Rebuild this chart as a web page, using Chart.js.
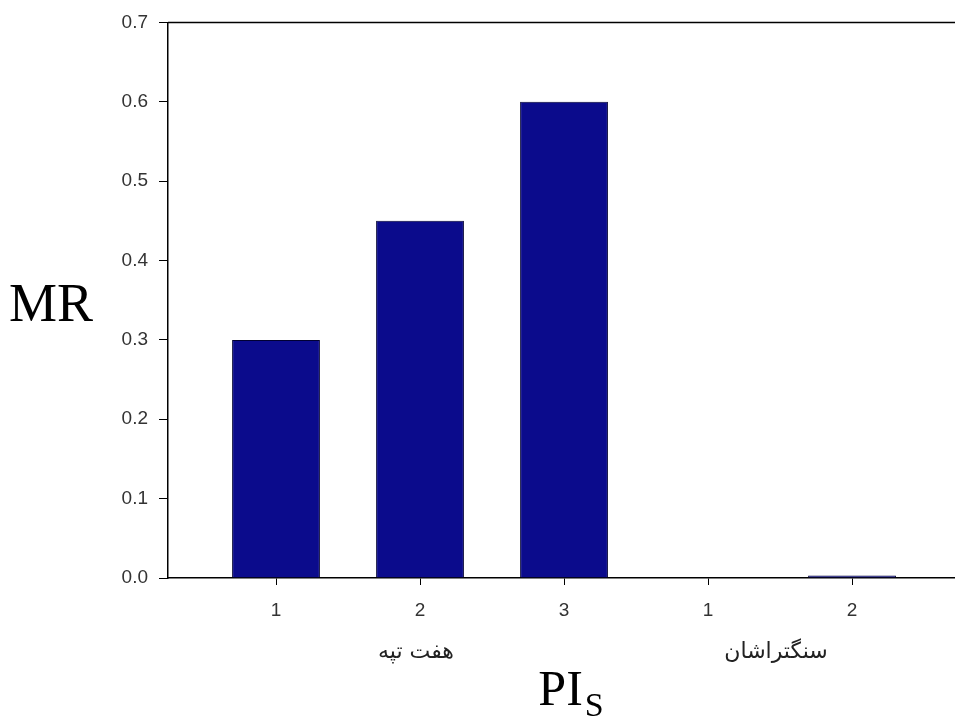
<!DOCTYPE html>
<html>
<head>
<meta charset="utf-8">
<script src="https://cdn.jsdelivr.net/npm/chart.js@4.4.1/dist/chart.umd.min.js"></script>
<style>
html,body{margin:0;padding:0;background:#fff;overflow:hidden;}
#wrap{position:relative;width:955px;height:720px;}
</style>
</head>
<body>
<div id="wrap"><canvas id="c" width="955" height="720"></canvas></div>
<script>
// ---- data ----
const categories = ['1', '2', '3', '1', '2'];
const groups = ['هفت تپه', 'سنگتراشان'];
const groupSizes = [3, 2];
const mrValues = [0.30, 0.45, 0.60, 0.0, 0.003];
const yTicks = [0.0, 0.1, 0.2, 0.3, 0.4, 0.5, 0.6, 0.7];
const yTitle = 'MR';
const xTitleMain = 'PI';
const xTitleSub = 'S';

const points = categories.map((c, i) => ({x: i, y: mrValues[i]}));

const decor = {
  id: 'decor',
  afterDraw(chart) {
    const {ctx, chartArea, scales} = chart;
    const x = scales.x, y = scales.y;
    ctx.save();
    // top frame line
    ctx.strokeStyle = '#000';
    ctx.lineWidth = 1.5;
    ctx.beginPath();
    ctx.moveTo(chartArea.left, y.getPixelForValue(yTicks[yTicks.length - 1]));
    ctx.lineTo(chartArea.right, y.getPixelForValue(yTicks[yTicks.length - 1]));
    ctx.stroke();
    // group labels
    ctx.fillStyle = '#222';
    ctx.font = '22px "DejaVu Sans"';
    ctx.textAlign = 'center';
    ctx.textBaseline = 'middle';
    let start = 0;
    groups.forEach((g, gi) => {
      const end = start + groupSizes[gi] - 1;
      const cx = (x.getPixelForValue(start) + x.getPixelForValue(end)) / 2;
      ctx.fillText(g, cx - 4, 652);
      start = end + 1;
    });
    // y title
    ctx.fillStyle = '#000';
    ctx.font = '54px "Liberation Serif"';
    ctx.textAlign = 'left';
    ctx.textBaseline = 'alphabetic';
    ctx.fillText(yTitle, 9, 321);
    // x title with subscript
    ctx.font = '50px "Liberation Serif"';
    const wMain = ctx.measureText(xTitleMain).width;
    ctx.font = '34px "Liberation Serif"';
    const wSub = ctx.measureText(xTitleSub).width;
    const cx = (chartArea.left + x.getPixelForValue(4.75)) / 2 + 6;
    const x0 = cx - (wMain + wSub) / 2;
    ctx.font = '50px "Liberation Serif"';
    ctx.fillText(xTitleMain, x0, 705);
    ctx.font = '34px "Liberation Serif"';
    ctx.fillText(xTitleSub, x0 + wMain + 2, 716);
    ctx.restore();
  }
};

new Chart(document.getElementById('c'), {
  type: 'bar',
  data: {
    datasets: [{
      data: points,
      backgroundColor: '#0b0b8c',
      borderColor: '#000033',
      borderWidth: 1,
      barPercentage: 0.61,
      categoryPercentage: 1.0
    }]
  },
  options: {
    responsive: false,
    animation: false,
    layout: {padding: {top: 21, left: 0, right: 0, bottom: 0}},
    plugins: {legend: {display: false}, tooltip: {enabled: false}},
    scales: {
      x: {
        type: 'linear',
        offset: false,
        min: -0.75,
        max: 4.715,
        afterBuildTicks: s => { s.ticks = categories.map((c, i) => ({value: i})); },
        afterFit: s => { s.height = 142; },
        grid: {offset: false, drawOnChartArea: false, tickLength: 7, color: '#000', lineWidth: 1},
        border: {color: '#000', width: 1.5},
        ticks: {
          padding: 14,
          color: '#333',
          font: {family: '"Liberation Sans"', size: 19},
          callback: v => categories[v],
          maxRotation: 0,
          autoSkip: false
        }
      },
      y: {
        min: 0,
        max: 0.7,
        afterBuildTicks: s => { s.ticks = yTicks.map(v => ({value: v})); },
        afterFit: s => { s.width = 168; },
        grid: {drawOnChartArea: false, tickLength: 9, color: '#000', lineWidth: 1},
        border: {color: '#000', width: 1.5},
        ticks: {
          padding: 11,
          color: '#333',
          font: {family: '"Liberation Sans"', size: 19},
          callback: v => Number(v).toFixed(1)
        }
      }
    }
  },
  plugins: [decor]
});
</script>
</body>
</html>
